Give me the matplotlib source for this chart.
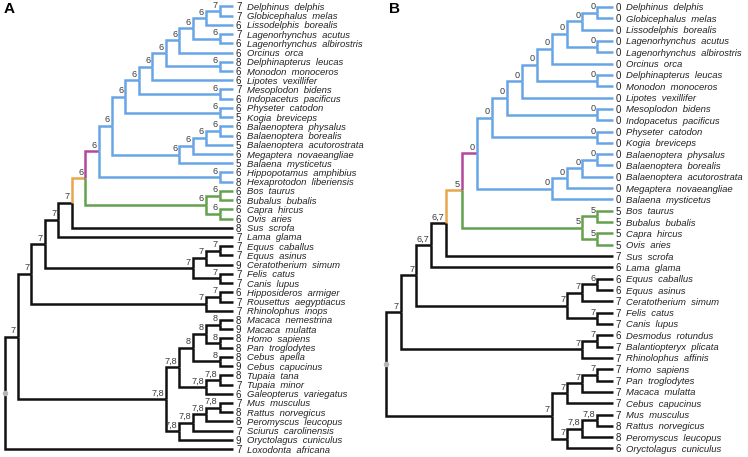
import matplotlib
matplotlib.use('Agg')
import matplotlib.pyplot as plt

plt.rcParams['font.family'] = ['Liberation Sans', 'DejaVu Sans']

# ---- panel A data ----
names_a = ["Delphinus delphis", "Globicephalus melas", "Lissodelphis borealis",
           "Lagenorhynchus acutus", "Lagenorhynchus albirostris", "Orcinus orca",
           "Delphinapterus leucas", "Monodon monoceros", "Lipotes vexillifer",
           "Mesoplodon bidens", "Indopacetus pacificus", "Physeter catodon",
           "Kogia breviceps", "Balaenoptera physalus", "Balaenoptera borealis",
           "Balaenoptera acutorostrata", "Megaptera novaeangliae", "Balaena mysticetus",
           "Hippopotamus amphibius", "Hexaprotodon liberiensis", "Bos taurus",
           "Bubalus bubalis", "Capra hircus", "Ovis aries", "Sus scrofa", "Lama glama",
           "Equus caballus", "Equus asinus", "Ceratotherium simum", "Felis catus",
           "Canis lupus", "Hipposideros armiger", "Rousettus aegyptiacus",
           "Rhinolophus inops", "Macaca nemestrina", "Macaca mulatta", "Homo sapiens",
           "Pan troglodytes", "Cebus apella", "Cebus capucinus", "Tupaia tana",
           "Tupaia minor", "Galeopterus variegatus", "Mus musculus", "Rattus norvegicus",
           "Peromyscus leucopus", "Sciurus carolinensis", "Oryctolagus cuniculus",
           "Loxodonta africana"]
values_a = [7, 7, 6, 7, 6, 6, 8, 6, 6, 7, 6, 6, 5, 6, 6, 5, 6, 5, 6, 8, 6, 6, 6, 6,
            8, 7, 7, 7, 9, 7, 7, 6, 7, 7, 8, 9, 8, 8, 8, 9, 8, 7, 6, 7, 8, 8, 7, 9, 7]
# topology with node labels, leaves given as index into names_a
tree_a = ("(((((((((((((((((0,1)7,2)6,(3,4)6)6,5)6,(6,7)6)6,8)6,(9,10)6)6,(11,12)6)6"
          ",((((13,14)6,15)6,16)6,17)6)6,(18,19)6)6,((20,21)6,(22,23)6)6)6,24)7,25)7"
          ",(((26,27)7,28)7,(29,30)7)7)7,((31,32)7,33)7)7"
          ",(((((34,35)8,(36,37)8)8,(38,39)8)8,((40,41)'7,8',42)'7,8')'7,8'"
          ",((((43,44)'7,8',45)'7,8',46)'7,8',47)'7,8')'7,8')7,48)")

# ---- panel B data ----
names_b = ["Delphinus delphis", "Globicephalus melas", "Lissodelphis borealis",
           "Lagenorhynchus acutus", "Lagenorhynchus albirostris", "Orcinus orca",
           "Delphinapterus leucas", "Monodon monoceros", "Lipotes vexillifer",
           "Mesoplodon bidens", "Indopacetus pacificus", "Physeter catodon",
           "Kogia breviceps", "Balaenoptera physalus", "Balaenoptera borealis",
           "Balaenoptera acutorostrata", "Megaptera novaeangliae", "Balaena mysticetus",
           "Bos taurus", "Bubalus bubalis", "Capra hircus", "Ovis aries", "Sus scrofa",
           "Lama glama", "Equus caballus", "Equus asinus", "Ceratotherium simum",
           "Felis catus", "Canis lupus", "Desmodus rotundus", "Balantiopteryx plicata",
           "Rhinolophus affinis", "Homo sapiens", "Pan troglodytes", "Macaca mulatta",
           "Cebus capucinus", "Mus musculus", "Rattus norvegicus", "Peromyscus leucopus",
           "Oryctolagus cuniculus"]
values_b = [0] * 18 + [5, 5, 5, 5, 7, 6, 6, 6, 7, 7, 7, 6, 7, 7, 7, 7, 7, 7, 7, 8, 8, 6]
tree_b = ("(((((((((((((((0,1)0,2)0,(3,4)0)0,5)0,(6,7)0)0,8)0,(9,10)0)0,(11,12)0)0"
          ",((((13,14)0,15)0,16)0,17)0)0,((18,19)5,(20,21)5)5)5,22)'6,7',23)'6,7'"
          ",(((24,25)6,26)7,(27,28)7)7)7,((29,30)7,31)7)7"
          ",((((32,33)7,34)7,35)7,(((36,37)'7,8',38)'7,8',39)7)7)")

# clade colouring: (first leaf, last leaf) -> (branch colour, colour of descendants)
BLUE, PURPLE, ORANGE, GREEN, BLACK = '#68a5e6', '#b3479c', '#e9a74c', '#63a14f', '#111111'
colors_a = {("Delphinus delphis", "Ovis aries"): (ORANGE, None),
            ("Delphinus delphis", "Hexaprotodon liberiensis"): (PURPLE, BLUE),
            ("Bos taurus", "Ovis aries"): (GREEN, GREEN)}
colors_b = {("Delphinus delphis", "Ovis aries"): (ORANGE, None),
            ("Delphinus delphis", "Balaena mysticetus"): (PURPLE, BLUE),
            ("Bos taurus", "Ovis aries"): (GREEN, GREEN)}


def parse(s):
    pos = 0

    def label():
        nonlocal pos
        if pos < len(s) and s[pos] == "'":
            end = s.index("'", pos + 1)
            lab = s[pos + 1:end]
            pos = end + 1
            return lab
        start = pos
        while pos < len(s) and s[pos] not in ',()':
            pos += 1
        return s[start:pos]

    def node():
        nonlocal pos
        if s[pos] == '(':
            pos += 1
            kids = [node()]
            while s[pos] == ',':
                pos += 1
                kids.append(node())
            pos += 1
            return {'kids': kids, 'label': label()}
        return {'kids': [], 'leaf': int(label())}

    return node()


def layout(n):
    if not n['kids']:
        n['h'], n['y'] = 0, n['leaf']
        n['lo'] = n['hi'] = n['leaf']
    else:
        for k in n['kids']:
            layout(k)
        n['h'] = 1 + max(k['h'] for k in n['kids'])
        n['y'] = sum(k['y'] for k in n['kids']) / len(n['kids'])
        n['lo'] = min(k['lo'] for k in n['kids'])
        n['hi'] = max(k['hi'] for k in n['kids'])
    n['x'] = -n['h']


def paint(n, inherited, rules):
    col, kid = inherited, inherited
    if (n['lo'], n['hi']) in rules:
        col, kid = rules[(n['lo'], n['hi'])]
        if kid is None:
            kid = inherited
    n['color'] = col
    for k in n['kids']:
        paint(k, kid, rules)


def draw(ax, n, names, values):
    for k in n['kids']:
        ax.plot([n['x'], n['x'], k['x']], [n['y'], k['y'], k['y']], color=k['color'],
                lw=1.8, solid_joinstyle='miter', solid_capstyle='butt')
        if k['kids']:
            ax.annotate(k['label'], (k['x'], k['y']), xytext=(-2, 1.5),
                        textcoords='offset pixels', ha='right', va='bottom',
                        fontsize=6.6, color='#3c3c3c')
        else:
            i = k['leaf']
            ax.annotate(str(values[i]), (k['x'], k['y']), xytext=(3, 0),
                        textcoords='offset pixels', ha='left', va='center_baseline',
                        fontsize=7, color='#222222')
            ax.annotate(names[i].replace(' ', '  '), (k['x'], k['y']), xytext=(14, 0),
                        textcoords='offset pixels', ha='left', va='center_baseline',
                        fontsize=6.8, style='italic', color='#222222',
                        family=['Liberation Sans Narrow', 'Liberation Sans'])
        draw(ax, k, names, values)


fig = plt.figure(figsize=(7.48, 4.57), dpi=100)

panels = [
    # names, values, tree, colours, axes rect, xlim, ylim, letter
    (names_a, values_a, tree_a, colors_a, [0, 0, 370 / 748, 1],
     (-233 / 13.44, (370 - 233) / 13.44), ((457 - 6.5) / 9.22, -6.5 / 9.22), 'A'),
    (names_b, values_b, tree_b, colors_b, [370 / 748, 0, 378 / 748, 1],
     (-242.5 / 15.1, 135.5 / 15.1), ((457 - 7) / 11.32, -7 / 11.32), 'B'),
]

for names, values, newick, crules, rect, xl, yl, letter in panels:
    ax = fig.add_axes(rect)
    ax.set_xlim(*xl)
    ax.set_ylim(*yl)
    ax.axis('off')
    root = parse(newick)
    layout(root)
    rules = {(names.index(a), names.index(b)): v for (a, b), v in crules.items()}
    paint(root, BLACK, rules)
    draw(ax, root, names, values)
    ax.plot(root['x'], root['y'], 'o', color='#b5b5b5', ms=4, mec='none', zorder=5)
    ax.text(0.01 if letter == 'A' else 0.05, 0.995, letter, transform=ax.transAxes,
            fontsize=11, fontweight='bold', va='top', ha='left')

fig.savefig('out.png', dpi=100)
